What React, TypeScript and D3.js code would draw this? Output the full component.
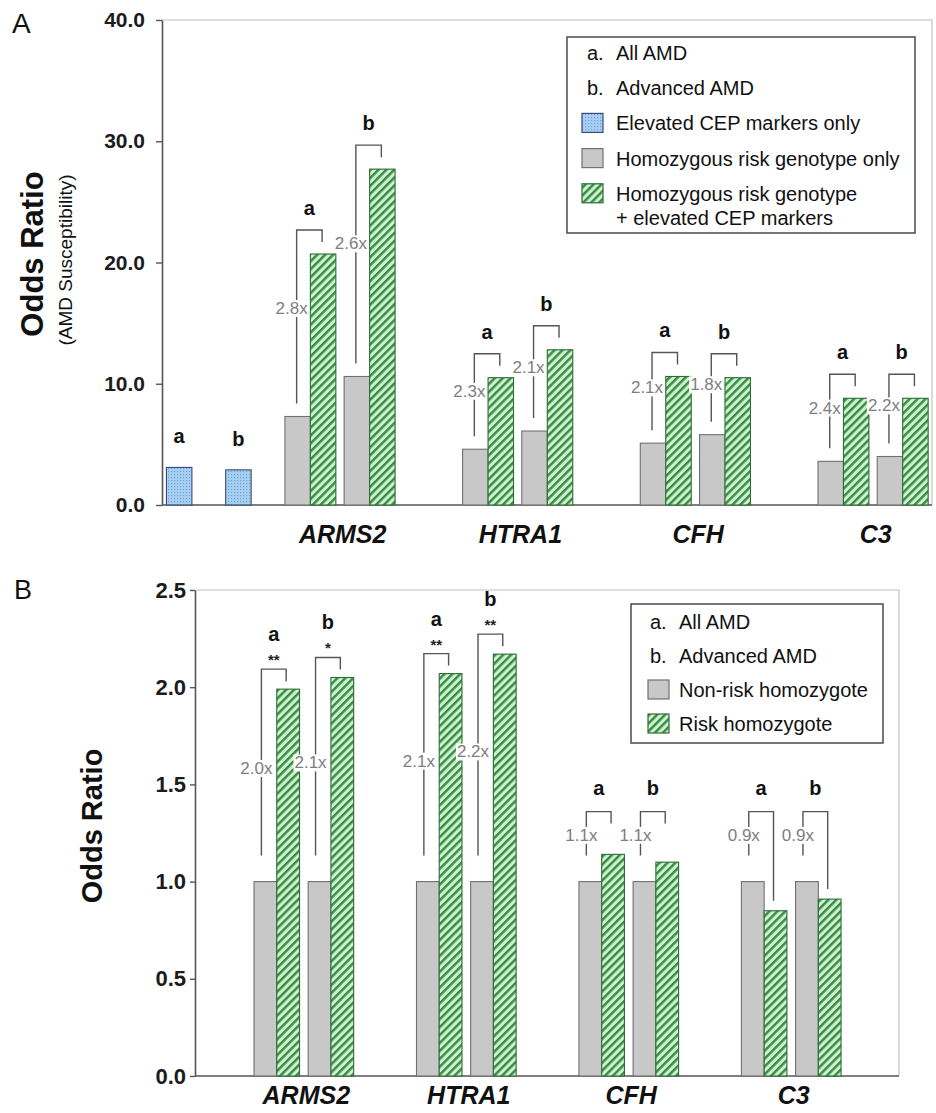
import React, { useEffect, useRef } from "react";
import * as d3 from "d3";

// ---- data ----
const genes = ["ARMS2", "HTRA1", "CFH", "C3"];
const cohorts = ["a", "b"]; // a = All AMD, b = Advanced AMD
const cohortLabels = ["All AMD", "Advanced AMD"];

// Panel A: odds ratio (AMD susceptibility)
const cepOnlyA = [3.1, 2.9];
const genotypeOnlyA = [
  [7.3, 10.6],
  [4.6, 6.1],
  [5.1, 5.8],
  [3.6, 4.0],
];
const genotypePlusCepA = [
  [20.7, 27.7],
  [10.5, 12.8],
  [10.6, 10.5],
  [8.8, 8.8],
];
const foldA = [
  ["2.8x", "2.6x"],
  ["2.3x", "2.1x"],
  ["2.1x", "1.8x"],
  ["2.4x", "2.2x"],
];
const ticksA = [0, 10, 20, 30, 40];
const seriesLabelsA = [
  ["Elevated CEP markers only"],
  ["Homozygous risk genotype only"],
  ["Homozygous risk genotype", "+ elevated CEP markers"],
];

// Panel B: odds ratio by genotype
const nonRiskB = [
  [1.0, 1.0],
  [1.0, 1.0],
  [1.0, 1.0],
  [1.0, 1.0],
];
const riskB = [
  [1.99, 2.05],
  [2.07, 2.17],
  [1.14, 1.1],
  [0.85, 0.91],
];
const foldB = [
  ["2.0x", "2.1x"],
  ["2.1x", "2.2x"],
  ["1.1x", "1.1x"],
  ["0.9x", "0.9x"],
];
const starsB = [
  ["**", "*"],
  ["**", "**"],
  ["", ""],
  ["", ""],
];
const ticksB = [0, 0.5, 1.0, 1.5, 2.0, 2.5];
const seriesLabelsB = [["Non-risk homozygote"], ["Risk homozygote"]];

// ---- styling ----
const FONT = "'Liberation Sans', Arial, Helvetica, sans-serif";
const LINE = "#555";
const FOLD = "#7e7e7e";
const FILLS: Record<string, string> = { grey: "#c8c8c8", green: "url(#hatch)", blue: "url(#dots)" };
const STROKES: Record<string, string> = { grey: "#707070", green: "#2f6a37", blue: "#3a4c70" };

type Sel = d3.Selection<SVGSVGElement, unknown, null, undefined>;

function drawAxes(svg: Sel, x0: number, x1: number, y: d3.ScaleLinear<number, number>, ticks: number[], fs: number, tickLen: number, pad: number) {
  const [yZero, yTop] = y.range();
  svg.append("path")
    .attr("d", `M${x0},${yTop}H${x1}V${yZero}`)
    .attr("fill", "none")
    .attr("stroke", "#c2c2c2")
    .attr("stroke-width", 1.2);
  const ax = svg.append("g")
    .attr("transform", `translate(${x0},0)`)
    .call(d3.axisLeft(y).tickValues(ticks).tickSize(tickLen).tickSizeOuter(0).tickPadding(pad).tickFormat(d3.format(".1f")));
  ax.select(".domain").attr("stroke", LINE).attr("stroke-width", 1.6);
  ax.selectAll(".tick line").attr("stroke", LINE).attr("stroke-width", 1.4);
  ax.selectAll(".tick text")
    .attr("font-family", FONT)
    .attr("font-size", fs)
    .attr("font-weight", "bold")
    .attr("fill", "#1c1c1c");
  svg.append("line")
    .attr("x1", x0).attr("x2", x1)
    .attr("y1", yZero).attr("y2", yZero)
    .attr("stroke", LINE).attr("stroke-width", 1.6);
}

function bar(svg: Sel, x: number, w: number, y: d3.ScaleLinear<number, number>, v: number, kind: string) {
  svg.append("rect")
    .attr("x", x).attr("width", w)
    .attr("y", y(v)).attr("height", y(0) - y(v))
    .attr("fill", FILLS[kind])
    .attr("stroke", STROKES[kind])
    .attr("stroke-width", 1.1);
}

type BracketCfg = {
  above: number; minAboveBase: number; leftGap: number; drop: number;
  labelFrac: number; letterGap: number; letterGapStars: number;
};

function bracket(svg: Sel, y: d3.ScaleLinear<number, number>, cfg: BracketCfg, xl: number, xr: number,
  base: number, combo: number, fold: string, stars: string, letter: string) {
  const top = Math.min(y(Math.max(base, combo)) - cfg.above, y(base) - cfg.minAboveBase);
  const leftEnd = y(base) - cfg.leftGap;
  const rightEnd = combo >= base ? top + cfg.drop : y(combo) - 10;
  svg.append("path")
    .attr("d", `M${xl},${leftEnd}V${top}H${xr}V${rightEnd}`)
    .attr("fill", "none")
    .attr("stroke", LINE)
    .attr("stroke-width", 1.4);

  const ly = top + (leftEnd - top) * cfg.labelFrac;
  const g = svg.append("g");
  const bg = g.append("rect").attr("fill", "#fff");
  const t = g.append("text")
    .attr("x", xl - 5).attr("y", ly).attr("dy", "0.35em")
    .attr("text-anchor", "middle")
    .attr("font-family", FONT).attr("font-size", 17)
    .attr("fill", FOLD)
    .text(fold);
  const bb = (t.node() as SVGTextElement).getBBox();
  bg.attr("x", bb.x - 1).attr("y", bb.y + 1).attr("width", bb.width + 2).attr("height", bb.height - 2);

  const cx = (xl + xr) / 2;
  if (stars) {
    svg.append("text")
      .attr("x", cx).attr("y", top - 4)
      .attr("text-anchor", "middle")
      .attr("font-family", FONT).attr("font-size", 15).attr("font-weight", "bold")
      .attr("fill", "#222")
      .text(stars);
  }
  svg.append("text")
    .attr("x", cx).attr("y", top - (stars ? cfg.letterGapStars : cfg.letterGap))
    .attr("text-anchor", "middle")
    .attr("font-family", FONT).attr("font-size", 20).attr("font-weight", "bold")
    .attr("fill", "#111")
    .text(letter);
}

function yTitle(svg: Sel, x: number, yc: number, text: string, fs: number, bold: boolean) {
  svg.append("text")
    .attr("transform", `translate(${x},${yc}) rotate(-90)`)
    .attr("text-anchor", "middle")
    .attr("dominant-baseline", "central")
    .attr("font-family", FONT).attr("font-size", fs)
    .attr("font-weight", bold ? "bold" : "normal")
    .attr("fill", "#111")
    .text(text);
}

type LegendRow = { letter?: string; swatch?: string; lines: string[] };

function legend(svg: Sel, box: [number, number, number, number], rows: LegendRow[], rowY0: number, step: number,
  letterX: number, swX: number, textX: number) {
  const [bx0, by0, bx1, by1] = box;
  svg.append("rect")
    .attr("x", bx0).attr("y", by0).attr("width", bx1 - bx0).attr("height", by1 - by0)
    .attr("fill", "#fff").attr("stroke", "#4a4a4a").attr("stroke-width", 1.5);
  rows.forEach((r, i) => {
    const cy = rowY0 + i * step;
    if (r.letter) {
      svg.append("text")
        .attr("x", letterX).attr("y", cy).attr("dy", "0.35em")
        .attr("font-family", FONT).attr("font-size", 20).attr("fill", "#111")
        .text(r.letter);
    }
    if (r.swatch) {
      svg.append("rect")
        .attr("x", swX).attr("y", cy - 10).attr("width", 21).attr("height", 19)
        .attr("fill", FILLS[r.swatch]).attr("stroke", STROKES[r.swatch]).attr("stroke-width", 1.2);
    }
    r.lines.forEach((ln, k) => {
      svg.append("text")
        .attr("x", textX).attr("y", cy + k * 24).attr("dy", "0.35em")
        .attr("font-family", FONT).attr("font-size", 20).attr("fill", "#111")
        .text(ln);
    });
  });
}

function geneLabels(svg: Sel, x: d3.ScaleBand<string>, baseline: number) {
  genes.forEach((g) => {
    svg.append("text")
      .attr("x", (x(`${g}-b`) as number) + 3)
      .attr("y", baseline)
      .attr("text-anchor", "middle")
      .attr("font-family", FONT).attr("font-size", 25)
      .attr("font-weight", "bold").attr("font-style", "italic")
      .attr("fill", "#111")
      .text(g);
  });
}

function panelLetter(svg: Sel, x: number, y: number, fs: number, t: string) {
  svg.append("text")
    .attr("x", x).attr("y", y)
    .attr("font-family", FONT).attr("font-size", fs).attr("fill", "#111")
    .text(t);
}

function drawPanelA(svg: Sel) {
  const slots = ["CEP-a", "CEP-b", ...genes.flatMap((g, i) =>
    i < genes.length - 1 ? [`${g}-a`, `${g}-b`, `gap${i}`] : [`${g}-a`, `${g}-b`])];
  const x = d3.scaleBand<string>().domain(slots).range([162, 932]);
  const y = d3.scaleLinear().domain([0, 40]).range([505, 20]);
  const bw = x.bandwidth() * 0.43;
  const off = x.bandwidth() * 0.075;

  drawAxes(svg, 162, 932, y, ticksA, 21, 6, 11);

  cohorts.forEach((c, j) => {
    const bx = (x(`CEP-${c}`) as number) + off;
    bar(svg, bx, bw, y, cepOnlyA[j], "blue");
    svg.append("text")
      .attr("x", bx + bw / 2).attr("y", y(cepOnlyA[j]) - 24)
      .attr("text-anchor", "middle")
      .attr("font-family", FONT).attr("font-size", 20).attr("font-weight", "bold")
      .attr("fill", "#111")
      .text(c);
  });

  const cfg: BracketCfg = { above: 24, minAboveBase: 62, leftGap: 13, drop: 12, labelFrac: 0.45, letterGap: 15, letterGapStars: 27 };
  genes.forEach((g, i) => {
    cohorts.forEach((c, j) => {
      const bx = (x(`${g}-${c}`) as number) + off;
      bar(svg, bx, bw, y, genotypeOnlyA[i][j], "grey");
      bar(svg, bx + bw, bw, y, genotypePlusCepA[i][j], "green");
      bracket(svg, y, cfg, bx + bw / 2 - 1, bx + bw * 1.5 - 1,
        genotypeOnlyA[i][j], genotypePlusCepA[i][j], foldA[i][j], "", c);
    });
  });

  geneLabels(svg, x, 543);
  yTitle(svg, 32, 254, "Odds Ratio", 31, true);
  yTitle(svg, 65, 260, "(AMD Susceptibility)", 19, false);
  panelLetter(svg, 12, 33, 28, "A");

  const rows: LegendRow[] = [
    { letter: "a.", lines: [cohortLabels[0]] },
    { letter: "b.", lines: [cohortLabels[1]] },
    { swatch: "blue", lines: seriesLabelsA[0] },
    { swatch: "grey", lines: seriesLabelsA[1] },
    { swatch: "green", lines: seriesLabelsA[2] },
  ];
  legend(svg, [567, 37, 915, 233], rows, 53, 35.2, 587, 582, 616);
}

function drawPanelB(svg: Sel) {
  const slots = ["lead", ...genes.flatMap((g, i) => [`${g}-a`, `${g}-b`, `gap${i}`])];
  const x = d3.scaleBand<string>().domain(slots).range([195, 899]);
  const y = d3.scaleLinear().domain([0, 2.5]).range([1076, 590]);
  const bw = x.bandwidth() * 0.42;
  const off = x.bandwidth() * 0.09;

  drawAxes(svg, 195, 899, y, ticksB, 22, 5, 4);

  const cfg: BracketCfg = { above: 20, minAboveBase: 70, leftGap: 26, drop: 12, labelFrac: 0.53, letterGap: 17, letterGapStars: 28 };
  genes.forEach((g, i) => {
    cohorts.forEach((c, j) => {
      const bx = (x(`${g}-${c}`) as number) + off;
      bar(svg, bx, bw, y, nonRiskB[i][j], "grey");
      bar(svg, bx + bw, bw, y, riskB[i][j], "green");
      bracket(svg, y, cfg, bx + bw / 2 - 4, bx + bw * 1.5 - 2,
        nonRiskB[i][j], riskB[i][j], foldB[i][j], starsB[i][j], c);
    });
  });

  geneLabels(svg, x, 1104);
  yTitle(svg, 92, 826, "Odds Ratio", 29, true);
  panelLetter(svg, 14, 599, 27, "B");

  const rows: LegendRow[] = [
    { letter: "a.", lines: [cohortLabels[0]] },
    { letter: "b.", lines: [cohortLabels[1]] },
    { swatch: "grey", lines: seriesLabelsB[0] },
    { swatch: "green", lines: seriesLabelsB[1] },
  ];
  legend(svg, [631, 604, 883, 743], rows, 622, 34, 650, 648, 679);
}

export default function App() {
  const ref = useRef<SVGSVGElement>(null);

  useEffect(() => {
    if (!ref.current) return;
    const svg = d3.select(ref.current) as Sel;
    svg.selectAll("*").remove();

    const defs = svg.append("defs");
    const hatch = defs.append("pattern")
      .attr("id", "hatch").attr("patternUnits", "userSpaceOnUse")
      .attr("width", 5.6).attr("height", 5.6)
      .attr("patternTransform", "rotate(45)");
    hatch.append("rect").attr("width", 5.6).attr("height", 5.6).attr("fill", "#cef3cf");
    hatch.append("rect").attr("width", 2.5).attr("height", 5.6).attr("fill", "#3a8c46");
    const dots = defs.append("pattern")
      .attr("id", "dots").attr("patternUnits", "userSpaceOnUse")
      .attr("width", 3).attr("height", 3);
    dots.append("rect").attr("width", 3).attr("height", 3).attr("fill", "#a7d0f3");
    dots.append("rect").attr("width", 1.2).attr("height", 1.2).attr("fill", "#6d9fd8");

    drawPanelA(svg);
    drawPanelB(svg);
  }, []);

  return (
    <div style={{ position: "absolute", left: 0, top: 0 }}>
      <svg ref={ref} width={936} height={1113} style={{ display: "block", background: "#fff" }} />
    </div>
  );
}
